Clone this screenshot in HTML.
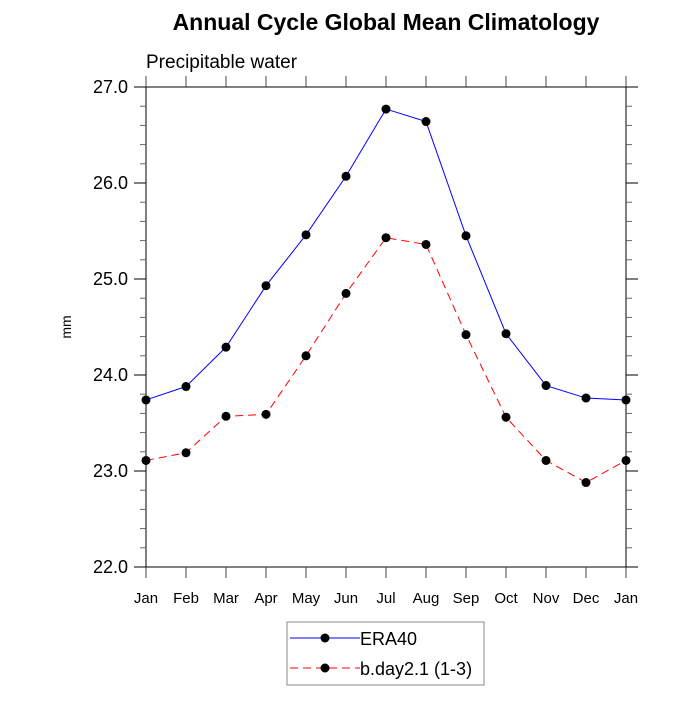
<!DOCTYPE html>
<html><head><meta charset="utf-8"><style>
body{margin:0;background:#fff;}
svg text{font-family:"Liberation Sans",sans-serif;}
</style></head><body>
<svg id="c" width="700" height="700" xmlns="http://www.w3.org/2000/svg">
<text x="386" y="30" font-size="23" font-weight="bold" text-anchor="middle">Annual Cycle Global Mean Climatology</text>
<text x="146" y="68" font-size="19">Precipitable water</text>
<text transform="translate(71,327) rotate(-90)" font-size="14" text-anchor="middle">mm</text>
<g id="axes"></g>
<g id="series"></g>
<g>
<rect x="287" y="622" width="197" height="63" fill="#fff" stroke="#888" stroke-width="1"/>
<line x1="290" y1="638" x2="360" y2="638" stroke="#00f" stroke-width="1"/>
<circle cx="325" cy="638" r="4.5" fill="#000"/>
<text x="360" y="645" font-size="18">ERA40</text>
<line x1="290" y1="668" x2="360" y2="668" stroke="#f00" stroke-width="1" stroke-dasharray="8,5"/>
<circle cx="325" cy="668" r="4.5" fill="#000"/>
<text x="360" y="675" font-size="18">b.day2.1 (1-3)</text>
</g>
</svg>
<script>
const months=["Jan","Feb","Mar","Apr","May","Jun","Jul","Aug","Sep","Oct","Nov","Dec","Jan"];
const era40=[23.74,23.88,24.29,24.93,25.46,26.07,26.77,26.64,25.45,24.43,23.89,23.76,23.74];
const bday=[23.11,23.19,23.57,23.59,24.20,24.85,25.43,25.36,24.42,23.56,23.11,22.88,23.11];
const yTicks=[22.0,23.0,24.0,25.0,26.0,27.0];
const NS="http://www.w3.org/2000/svg";
const L=146,R=626,T=87,B=567,ymin=22,ymax=27;
const xs=i=>L+(R-L)*i/(months.length-1);
const ys=v=>B-(v-ymin)/(ymax-ymin)*(B-T);
function mk(tag,at,parent){const e=document.createElementNS(NS,tag);for(const k in at)e.setAttribute(k,at[k]);parent.appendChild(e);return e;}
const ax=document.getElementById('axes');
const fr=mk('rect',{x:L,y:T,width:R-L,height:B-T,fill:'none',stroke:'#000','stroke-width':1},ax);


months.forEach((m,i)=>{const x=xs(i);
mk('line',{x1:x,y1:B,x2:x,y2:B+11,stroke:'#444'},ax);
mk('line',{x1:x,y1:T,x2:x,y2:T-11,stroke:'#444'},ax);
const t=mk('text',{x:x,y:603,'font-size':15,'text-anchor':'middle'},ax);t.textContent=m;

});
for(let v=ymin;v<=ymax+1e-9;v+=0.2){const y=ys(v);const major=Math.abs(v-Math.round(v))<1e-6;const len=major?12:6;
mk('line',{x1:L,y1:y,x2:L-len,y2:y,stroke:major?'#000':'#666'},ax);
mk('line',{x1:R,y1:y,x2:R+len,y2:y,stroke:major?'#000':'#666'},ax);}
yTicks.forEach(v=>{const t=mk('text',{x:128,y:ys(v)+6,'font-size':18,'text-anchor':'end'},ax);t.textContent=v.toFixed(1);

});
const sg=document.getElementById('series');
function draw(vals,color,dash,name){
const p=mk('polyline',{points:vals.map((v,i)=>xs(i)+','+ys(v)).join(' '),fill:'none',stroke:color,'stroke-width':1,'stroke-dasharray':dash},sg);


vals.forEach((v,i)=>{const c=mk('circle',{cx:xs(i),cy:ys(v),r:4.5,fill:'#000'},sg);

});}
draw(era40,'#00f','none','era40');
draw(bday,'#f00','8,5','bday');
</script>
</body></html>
